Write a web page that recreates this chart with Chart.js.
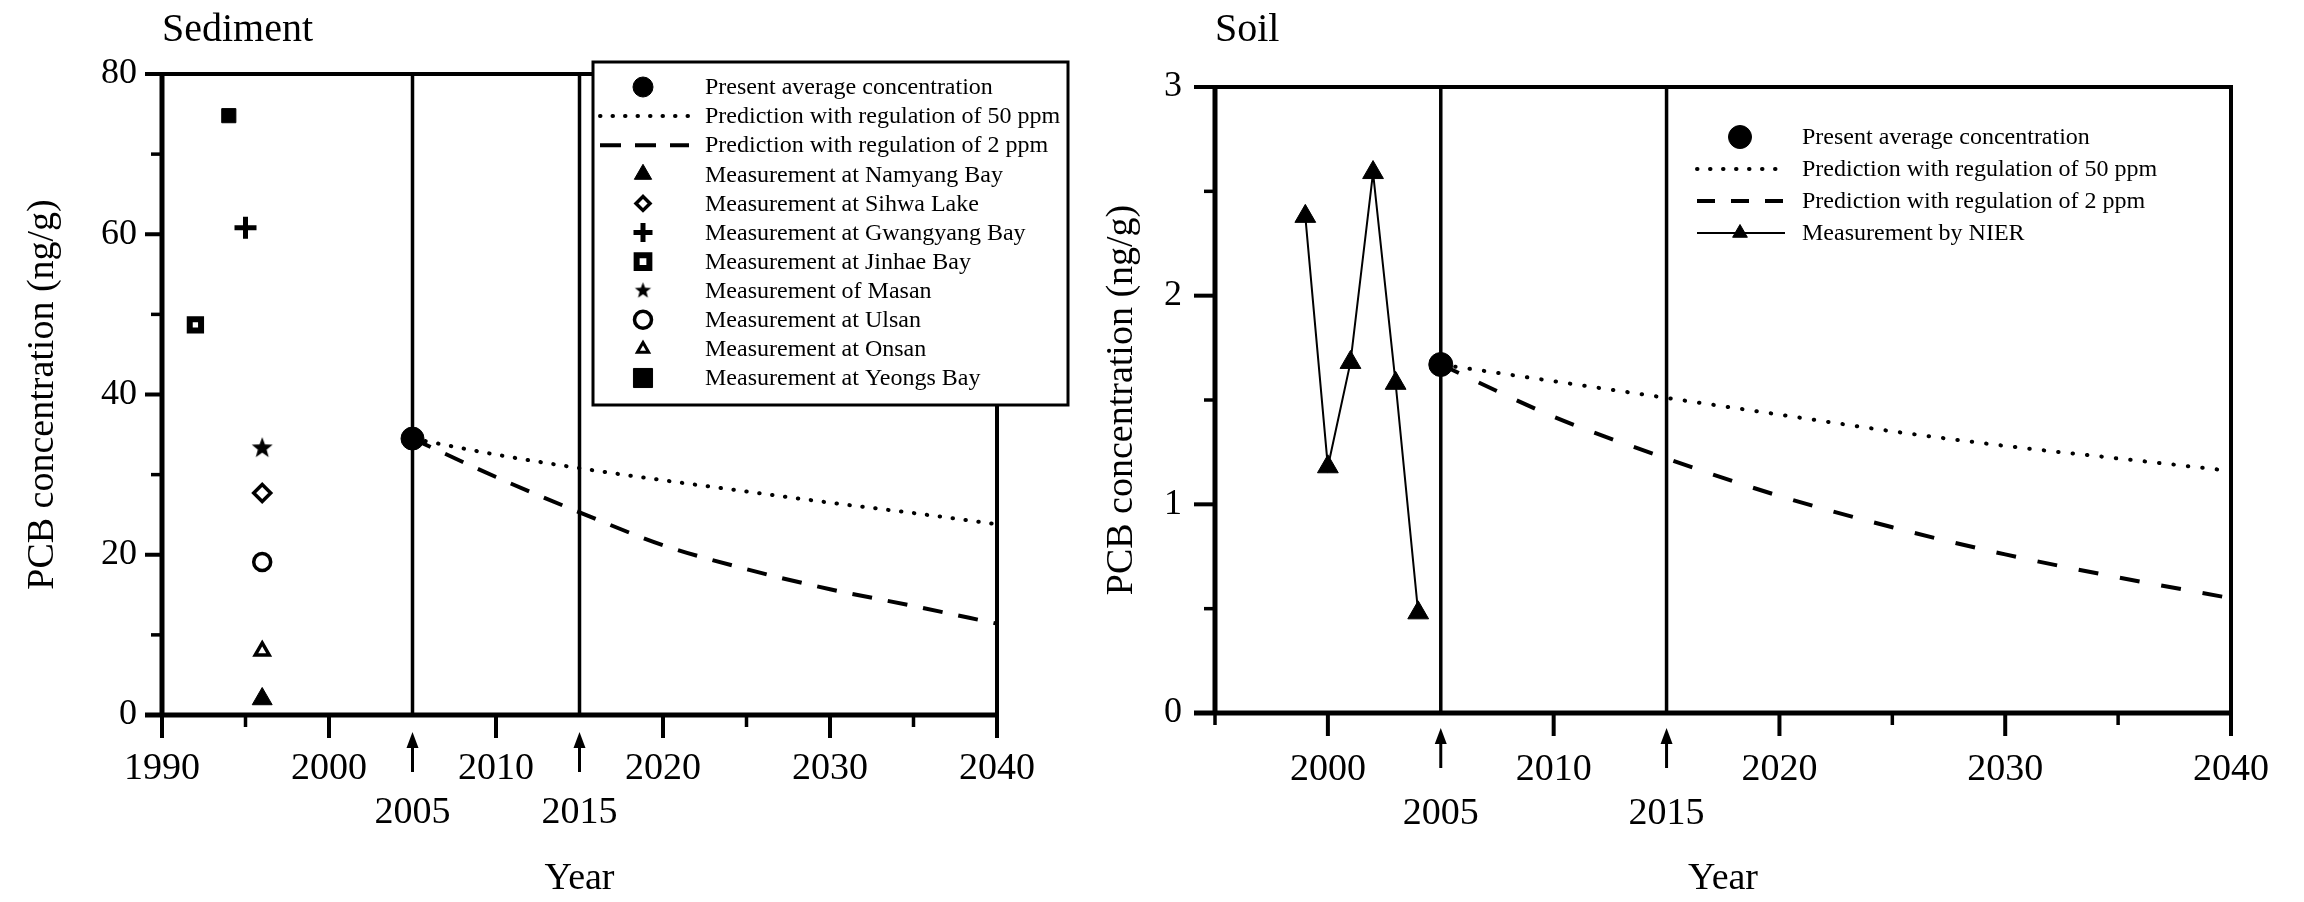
<!DOCTYPE html>
<html><head><meta charset="utf-8">
<script src="https://cdn.jsdelivr.net/npm/chart.js@4.4.1/dist/chart.umd.min.js"></script>
<style>
html,body{margin:0;padding:0;background:#fff;overflow:hidden;width:2304px;height:902px;}
#wrap{position:relative;width:2304px;height:902px;background:#fff;}
canvas{position:absolute;top:0;}
#c1{left:0;} #c2{left:1080px;}
</style></head><body>
<div id="wrap"><canvas id="c1" width="1080" height="902"></canvas><canvas id="c2" width="1224" height="902"></canvas></div>
<script>
// ---------------- DATA ----------------
const predYears = [2005, 2010, 2015, 2020, 2025, 2030, 2035, 2040];

// Sediment
const sedPresentYear = [2005];
const sedPresentValue = [34.5];
const sedPred50 = [34.5, 32.5, 30.8, 29.3, 27.9, 26.5, 25.2, 23.8];
const sedPred2 = [34.5, 29.7, 25.3, 21.2, 18.2, 15.7, 13.6, 11.4];
const sedSiteLabels = ['Measurement at Namyang Bay', 'Measurement at Sihwa Lake', 'Measurement at Gwangyang Bay',
  'Measurement at Jinhae Bay', 'Measurement of Masan', 'Measurement at Ulsan', 'Measurement at Onsan', 'Measurement at Yeongs Bay'];
const sedSiteYears = [1996, 1996, 1995, 1992, 1996, 1996, 1996, 1994];
const sedSiteValues = [2.0, 27.7, 60.8, 48.7, 33.3, 19.1, 8.0, 74.8];

// Soil
const soilPresentYear = [2005];
const soilPresentValue = [1.67];
const soilPred50 = [1.67, 1.59, 1.51, 1.43, 1.35, 1.28, 1.22, 1.16];
const soilPred2 = [1.67, 1.42, 1.22, 1.04, 0.89, 0.76, 0.65, 0.55];
const nierYears = [1999, 2000, 2001, 2002, 2003, 2004];
const nierValues = [2.38, 1.18, 1.68, 2.59, 1.58, 0.48];

// Ticks
const markedYears = [2005, 2015];
const sedXTickLabels = [1990, 2000, 2005, 2010, 2015, 2020, 2030, 2040];
const sedXMinor = [1995, 2025, 2035];
const sedYTicks = [0, 20, 40, 60, 80];
const sedYMinor = [10, 30, 50, 70];
const soilXTickLabels = [2000, 2005, 2010, 2015, 2020, 2030, 2040];
const soilXMinor = [1995, 2025, 2035];
const soilYTicks = [0, 1, 2, 3];
const soilYMinor = [0.5, 1.5, 2.5];

// ---------------- HELPERS ----------------
const FONT = '"Liberation Serif", "Times New Roman", serif';
const pts = (xs, ys) => xs.map((x, i) => ({x: x, y: ys[i]}));
const majorOf = (labels) => labels.filter(v => !markedYears.includes(v));

function makeStar(R, r) {
  const size = Math.ceil(R * 2 + 2);
  const c = document.createElement('canvas');
  c.width = c.height = size;
  const g = c.getContext('2d');
  g.fillStyle = '#000';
  g.beginPath();
  for (let k = 0; k < 10; k++) {
    const rad = (k % 2) ? r : R;
    const a = -Math.PI / 2 + k * Math.PI / 5;
    const px = size / 2 + rad * Math.cos(a), py = size / 2 + rad * Math.sin(a);
    if (k) g.lineTo(px, py); else g.moveTo(px, py);
  }
  g.closePath(); g.fill();
  return c;
}
const starPlot = makeStar(11, 4.6);
const starLegend = makeStar(8.5, 3.6);

const framePlugin = {
  id: 'frame',
  beforeDatasetsDraw(chart, args, o) {
    const ctx = chart.ctx;
    const {left: L, right: R, top: T, bottom: B} = chart.chartArea;
    const xs = chart.scales.x, ys = chart.scales.y;
    ctx.save();
    ctx.strokeStyle = '#000'; ctx.fillStyle = '#000'; ctx.lineCap = 'butt';
    const line = (x1, y1, x2, y2, w) => { ctx.lineWidth = w; ctx.beginPath(); ctx.moveTo(x1, y1); ctx.lineTo(x2, y2); ctx.stroke(); };
    markedYears.forEach(v => { const x = xs.getPixelForValue(v); line(x, T, x, B, 3.5); });
    line(L - o.yMajorLen, T, R + 2, T, 4);
    line(R, T - 2, R, B, 4);
    o.yMajor.forEach(v => { const y = ys.getPixelForValue(v); line(L - o.yMajorLen, y, L, y, 4); });
    o.yMinor.forEach(v => { const y = ys.getPixelForValue(v); line(L - 11, y, L, y, 3.5); });
    o.xMajor.forEach(v => { const x = xs.getPixelForValue(v); line(x, B, x, B + 23, 4); });
    o.xMinor.forEach(v => { const x = xs.getPixelForValue(v); line(x, B, x, B + 12, 3.5); });
    line(L, T - 2, L, B + 2, 5);
    line(L - o.yMajorLen, B, R + 2, B, 5);
    markedYears.forEach(v => {
      const x = xs.getPixelForValue(v);
      const tip = B + o.arrowTip;
      line(x, tip + 12, x, B + o.arrowEnd, 3);
      ctx.beginPath(); ctx.moveTo(x, tip); ctx.lineTo(x - 6, tip + 16); ctx.lineTo(x + 6, tip + 16); ctx.closePath(); ctx.fill();
    });
    ctx.restore();
  }
};

function drawMarker(ctx, style, radius, bw, fill, stroke, x, y) {
  ctx.fillStyle = fill; ctx.strokeStyle = stroke; ctx.lineWidth = bw;
  if (Chart.helpers && Chart.helpers.drawPoint) {
    Chart.helpers.drawPoint(ctx, {pointStyle: style, rotation: 0, radius: radius, borderWidth: bw}, x, y);
  } else {
    ctx.beginPath(); ctx.arc(x, y, radius, 0, Math.PI * 2); ctx.fill(); if (bw) ctx.stroke();
  }
}

const legendPlugin = {
  id: 'boxLegend',
  afterDraw(chart, args, o) {
    const ctx = chart.ctx;
    ctx.save();
    if (o.box) {
      const b = o.box;
      ctx.fillStyle = '#fff'; ctx.fillRect(b[0], b[1], b[2] - b[0], b[3] - b[1]);
      ctx.strokeStyle = '#000'; ctx.lineWidth = 3; ctx.strokeRect(b[0], b[1], b[2] - b[0], b[3] - b[1]);
    }
    chart.data.datasets.forEach((ds, i) => {
      const y = o.y0 + i * o.rowH;
      if (ds.legendKind === 'line' || ds.legendKind === 'both') {
        ctx.save();
        ctx.strokeStyle = '#000';
        ctx.lineWidth = ds.legendLineWidth || ds.borderWidth;
        ctx.lineCap = ds.borderCapStyle || 'butt';
        ctx.setLineDash(ds.legendDash || []);
        ctx.beginPath(); ctx.moveTo(o.lineX1, y); ctx.lineTo(o.lineX2, y); ctx.stroke();
        ctx.restore();
      }
      if (ds.legendKind === 'point' || ds.legendKind === 'both') {
        ctx.save();
        drawMarker(ctx, ds.legendStyle || ds.pointStyle, ds.legendRadius, ds.legendBorder !== undefined ? ds.legendBorder : ds.pointBorderWidth,
          ds.pointBackgroundColor, ds.pointBorderColor, o.markerX, y);
        ctx.restore();
      }
      ctx.fillStyle = '#000';
      ctx.font = '24px ' + FONT;
      ctx.textBaseline = 'middle'; ctx.textAlign = 'left';
      ctx.fillText(ds.label, o.textX, y + 1);
    });
    ctx.restore();
  }
};

function marker(label, data, style, radius, fill, bw, legendRadius, legendBorder, legendStyle) {
  return {label: label, data: data, showLine: false, pointStyle: style, pointRadius: radius, pointHoverRadius: radius,
    pointBackgroundColor: fill, pointBorderColor: '#000', pointBorderWidth: bw, borderColor: '#000', backgroundColor: fill,
    legendKind: 'point', legendRadius: legendRadius, legendBorder: legendBorder, legendStyle: legendStyle};
}

function axisX(min, max, labels, height, pad) {
  return {
    type: 'linear', min: min, max: max,
    afterBuildTicks: s => { s.ticks = labels.map(v => ({value: v})); },
    afterFit: s => { s.height = height; },
    grid: {display: false, drawTicks: false}, border: {display: false},
    ticks: {autoSkip: false, maxRotation: 0, minRotation: 0, padding: pad, color: '#000',
      font: {family: FONT, size: 38, lineHeight: 1.16},
      callback: v => markedYears.includes(v) ? ['', String(v)] : String(v)},
    title: {display: true, text: 'Year', color: '#000', font: {family: FONT, size: 38, lineHeight: 1.2}, padding: {top: 0, bottom: 0}}
  };
}
function axisY(min, max, labels, width, pad, titlePad) {
  return {
    type: 'linear', min: min, max: max,
    afterBuildTicks: s => { s.ticks = labels.map(v => ({value: v})); },
    afterFit: s => { s.width = width; },
    grid: {display: false, drawTicks: false}, border: {display: false},
    ticks: {padding: pad, color: '#000', font: {family: FONT, size: 36}},
    title: {display: true, text: 'PCB concentration (ng/g)', color: '#000', font: {family: FONT, size: 38, lineHeight: 1.2}, padding: {top: titlePad, bottom: 0}}
  };
}

// ---------------- SEDIMENT ----------------
const sedDatasets = [
  {label: 'Present average concentration', data: pts(sedPresentYear, sedPresentValue), showLine: false, pointStyle: 'circle',
    pointRadius: 11.5, pointBackgroundColor: '#000', pointBorderColor: '#000', pointBorderWidth: 1, legendKind: 'point', legendRadius: 10},
  {label: 'Prediction with regulation of 50 ppm', data: pts(predYears, sedPred50), borderColor: '#000', borderWidth: 4,
    borderDash: [0.5, 12.5], borderCapStyle: 'round', pointRadius: 0, cubicInterpolationMode: 'monotone', fill: false,
    legendKind: 'line', legendDash: [0.5, 12], legendLineWidth: 4},
  {label: 'Prediction with regulation of 2 ppm', data: pts(predYears, sedPred2), borderColor: '#000', borderWidth: 4,
    borderDash: [20, 16], pointRadius: 0, cubicInterpolationMode: 'monotone', fill: false,
    legendKind: 'line', legendDash: [21, 14], legendLineWidth: 4},
  marker(sedSiteLabels[0], pts([sedSiteYears[0]], [sedSiteValues[0]]), 'triangle', 11.5, '#000', 1, 10, 1),
  marker(sedSiteLabels[1], pts([sedSiteYears[1]], [sedSiteValues[1]]), 'rectRot', 8.5, '#fff', 3.5, 7, 3.5),
  marker(sedSiteLabels[2], pts([sedSiteYears[2]], [sedSiteValues[2]]), 'cross', 11, '#000', 5, 9.5, 5),
  marker(sedSiteLabels[3], pts([sedSiteYears[3]], [sedSiteValues[3]]), 'rect', 8, '#fff', 6, 9, 6),
  marker(sedSiteLabels[4], pts([sedSiteYears[4]], [sedSiteValues[4]]), starPlot, 11, '#000', 0, 9, 0, starLegend),
  marker(sedSiteLabels[5], pts([sedSiteYears[5]], [sedSiteValues[5]]), 'circle', 8.5, '#fff', 3.5, 8.5, 3.5),
  marker(sedSiteLabels[6], pts([sedSiteYears[6]], [sedSiteValues[6]]), 'triangle', 8, '#fff', 3.5, 6.5, 3),
  marker(sedSiteLabels[7], pts([sedSiteYears[7]], [sedSiteValues[7]]), 'rect', 10, '#000', 1, 13.5, 1)
];

new Chart(document.getElementById('c1'), {
  type: 'line',
  data: {datasets: sedDatasets},
  plugins: [framePlugin, legendPlugin],
  options: {
    responsive: false, animation: false, events: [],
    layout: {padding: {left: 0, right: 83, top: 0, bottom: 0}},
    scales: {x: axisX(1990, 2040, sedXTickLabels, 187, 32), y: axisY(0, 80, sedYTicks, 162, 25, 20)},
    plugins: {
      legend: {display: false}, tooltip: {enabled: false},
      title: {display: true, text: 'Sediment', align: 'start', fullSize: false, color: '#000',
        font: {family: FONT, size: 40, weight: 'normal', lineHeight: 1.2}, padding: {top: 6, bottom: 20}},
      frame: {yMajor: sedYTicks, yMinor: sedYMinor, xMajor: majorOf(sedXTickLabels), xMinor: sedXMinor, yMajorLen: 17, arrowTip: 17, arrowEnd: 57},
      boxLegend: {box: [593, 62, 1068, 405], markerX: 643, lineX1: 600, lineX2: 689, textX: 705, y0: 87, rowH: 29.1}
    }
  }
});

// ---------------- SOIL ----------------
const soilDatasets = [
  {label: 'Present average concentration', data: pts(soilPresentYear, soilPresentValue), showLine: false, pointStyle: 'circle',
    pointRadius: 12, pointBackgroundColor: '#000', pointBorderColor: '#000', pointBorderWidth: 1, legendKind: 'point', legendRadius: 11.5},
  {label: 'Prediction with regulation of 50 ppm', data: pts(predYears, soilPred50), borderColor: '#000', borderWidth: 4,
    borderDash: [0.5, 14], borderCapStyle: 'round', pointRadius: 0, cubicInterpolationMode: 'monotone', fill: false,
    legendKind: 'line', legendDash: [0.5, 12.5], legendLineWidth: 4},
  {label: 'Prediction with regulation of 2 ppm', data: pts(predYears, soilPred2), borderColor: '#000', borderWidth: 4,
    borderDash: [20, 22], pointRadius: 0, cubicInterpolationMode: 'monotone', fill: false,
    legendKind: 'line', legendDash: [18, 16], legendLineWidth: 4},
  {label: 'Measurement by NIER', data: pts(nierYears, nierValues), borderColor: '#000', borderWidth: 2, showLine: true,
    pointStyle: 'triangle', pointRadius: 12, pointBackgroundColor: '#000', pointBorderColor: '#000', pointBorderWidth: 1,
    tension: 0, fill: false, legendKind: 'both', legendRadius: 8.5, legendLineWidth: 2}
];

new Chart(document.getElementById('c2'), {
  type: 'line',
  data: {datasets: soilDatasets},
  plugins: [framePlugin, legendPlugin],
  options: {
    responsive: false, animation: false, events: [],
    layout: {padding: {left: 0, right: 66, top: 0, bottom: 0}},
    scales: {x: axisX(1995, 2040, soilXTickLabels, 189, 35), y: axisY(0, 3, soilYTicks, 135, 33, 19)},
    plugins: {
      legend: {display: false}, tooltip: {enabled: false},
      title: {display: true, text: 'Soil', align: 'start', fullSize: false, color: '#000',
        font: {family: FONT, size: 40, weight: 'normal', lineHeight: 1.2}, padding: {top: 6, bottom: 33}},
      frame: {yMajor: soilYTicks, yMinor: soilYMinor, xMajor: majorOf(soilXTickLabels), xMinor: soilXMinor, yMajorLen: 21, arrowTip: 15, arrowEnd: 55},
      boxLegend: {box: null, markerX: 660, lineX1: 617, lineX2: 705, textX: 722, y0: 137, rowH: 32}
    }
  }
});
</script>
</body></html>
